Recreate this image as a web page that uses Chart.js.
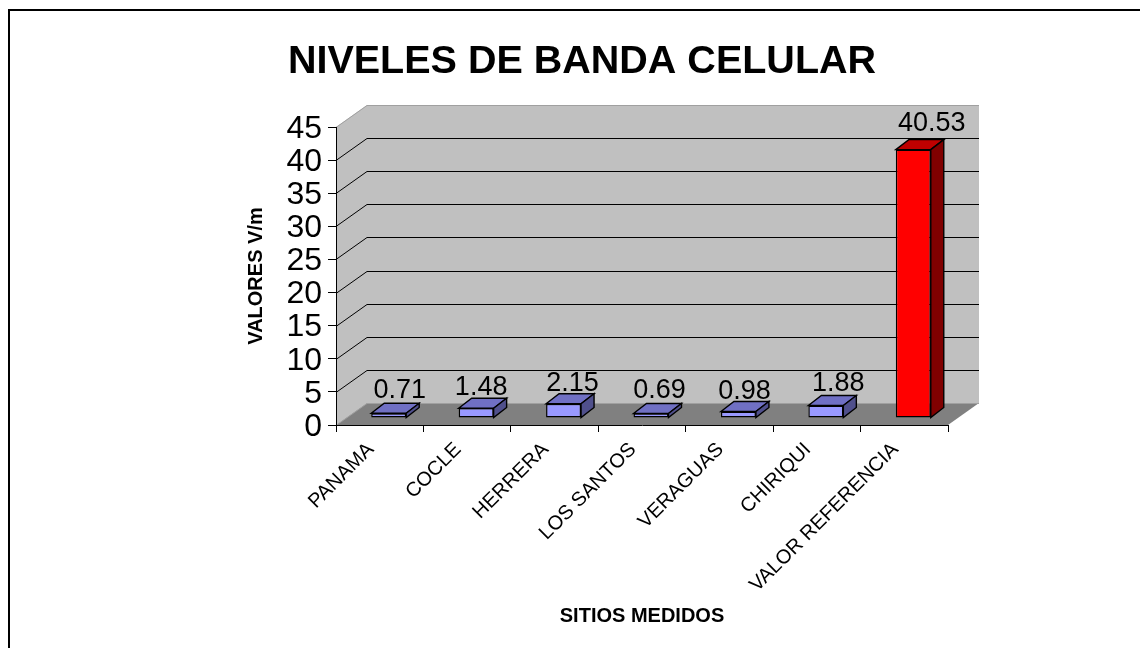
<!DOCTYPE html>
<html><head><meta charset="utf-8">
<style>html,body{margin:0;padding:0;background:#fff}canvas{display:block}</style>
<script src="https://cdn.jsdelivr.net/npm/chart.js@4"></script>
</head><body>
<div style="width:1140px;height:648px"><canvas id="c" width="1140" height="648"></canvas></div>
<script>
const categories = ["PANAMA","COCLE","HERRERA","LOS SANTOS","VERAGUAS","CHIRIQUI","VALOR REFERENCIA"];
const values = [0.71,1.48,2.15,0.69,0.98,1.88,40.53];
const valueLabels = ["0.71","1.48","2.15","0.69","0.98","1.88","40.53"];
const barColors = ["#9999ff","#9999ff","#9999ff","#9999ff","#9999ff","#9999ff","#ff0000"];
const barTops = ["#7070c4","#7070c4","#7070c4","#7070c4","#7070c4","#7070c4","#c00000"];
const barSides = ["#50508c","#50508c","#50508c","#50508c","#50508c","#50508c","#800000"];
const labelDx = [11,5,9,8.5,6,12.5,18.5];
const labelDy = [0,2,2,0,2,0,-4];
const FONT = '"Liberation Sans", Arial, sans-serif';
const WALL = {dx:31,dy:-22};
const BAR = {dx:9,dy:-7,sdx:13,sdy:-10};
const threeD = {
  id:'threeD',
  beforeDraw(chart){
    const c=chart.ctx,{left,right,top,bottom}=chart.chartArea,y=chart.scales.y;
    c.save();
    c.fillStyle='#fff';c.fillRect(0,0,chart.width,chart.height);
    c.strokeStyle='#000';c.lineWidth=2;
    c.beginPath();c.moveTo(9,chart.height);c.lineTo(9,10);c.lineTo(chart.width,10);c.stroke();
    c.lineWidth=1;
    const d=WALL;
    c.fillStyle='#c0c0c0';
    c.beginPath();c.moveTo(left,bottom);c.lineTo(left,top);c.lineTo(left+d.dx,top+d.dy);c.lineTo(right+d.dx,top+d.dy);c.lineTo(right+d.dx,bottom+d.dy);c.lineTo(left+d.dx,bottom+d.dy);c.closePath();c.fill();
    c.fillStyle='#808080';
    c.beginPath();c.moveTo(left,bottom);c.lineTo(left+d.dx,bottom+d.dy);c.lineTo(right+d.dx,bottom+d.dy);c.lineTo(right,bottom);c.closePath();c.fill();
    y.ticks.forEach(t=>{
      const p=Math.round(y.getPixelForValue(t.value))+0.5;
      const edge=t.value===0||t.value===y.max;
      c.strokeStyle=edge?'#a0a0a0':'#000';
      c.beginPath();c.moveTo(left,p);c.lineTo(left+d.dx,p+d.dy);c.lineTo(right+d.dx,p+d.dy);c.stroke();
    });
    c.restore();
  },
  beforeDatasetDraw(chart){chart.ctx.save();chart.ctx.translate(BAR.dx,BAR.dy);},
  afterDatasetDraw(chart){
    const c=chart.ctx,meta=chart.getDatasetMeta(0);
    c.lineWidth=1.4;c.strokeStyle='#000';c.lineJoin='miter';
    meta.data.forEach((b,i)=>{
      const l=b.x-b.width/2,r=b.x+b.width/2,t=b.y,bt=b.base;
      c.fillStyle=barTops[i];
      c.beginPath();c.moveTo(l,t);c.lineTo(l+BAR.sdx,t+BAR.sdy);c.lineTo(r+BAR.sdx,t+BAR.sdy);c.lineTo(r,t);c.closePath();c.fill();c.stroke();
      c.fillStyle=barSides[i];
      c.beginPath();c.moveTo(r,t);c.lineTo(r+BAR.sdx,t+BAR.sdy);c.lineTo(r+BAR.sdx,bt+BAR.sdy);c.lineTo(r,bt);c.closePath();c.fill();c.stroke();
    });
    c.restore();
    c.save();
    c.fillStyle='#000';c.font='27px '+FONT;c.textAlign='center';c.textBaseline='alphabetic';
    meta.data.forEach((b,i)=>{
      c.fillText(valueLabels[i],b.x+BAR.dx+labelDx[i],b.y+BAR.dy-15+labelDy[i]);
    });
    c.restore();
  }
};
new Chart(document.getElementById('c'),{
  type:'bar',
  data:{labels:categories,datasets:[{data:values,backgroundColor:barColors,borderColor:'#000',borderWidth:1.4,borderSkipped:false,categoryPercentage:1,barPercentage:0.4}]},
  plugins:[threeD],
  options:{
    responsive:false,animation:false,
    layout:{padding:{left:216,right:192,top:16,bottom:16}},
    plugins:{legend:{display:false},tooltip:{enabled:false},
      title:{display:true,text:'NIVELES DE BANDA CELULAR',color:'#000',font:{family:FONT,size:39.5,weight:'bold'},padding:{top:22,bottom:41.6}}},
    scales:{
      x:{offset:true,
        grid:{drawOnChartArea:false,offset:true,color:'#000',tickLength:7,tickColor:'#000'},
        border:{color:'#000'},
        ticks:{color:'#000',font:{family:FONT,size:20},maxRotation:45,minRotation:45,padding:6,autoSkip:false,labelOffset:-9},
        title:{display:true,text:'SITIOS MEDIDOS',color:'#000',font:{family:FONT,size:20,weight:'bold'},padding:{top:0,bottom:4}},
        afterFit(s){s.height=207;}
      },
      y:{min:0,max:45,
        grid:{drawOnChartArea:false,color:'#000',tickLength:8,tickColor:'#000'},
        border:{color:'#000'},
        ticks:{stepSize:5,color:'#000',font:{family:FONT,size:32},padding:6,autoSkip:false,labelOffset:2},
        title:{display:true,text:'VALORES V/m',color:'#000',font:{family:FONT,size:20,weight:'bold'},padding:{top:28,bottom:0}},
        afterFit(s){s.width=120;}
      }
    }
  }
});
</script></body></html>
